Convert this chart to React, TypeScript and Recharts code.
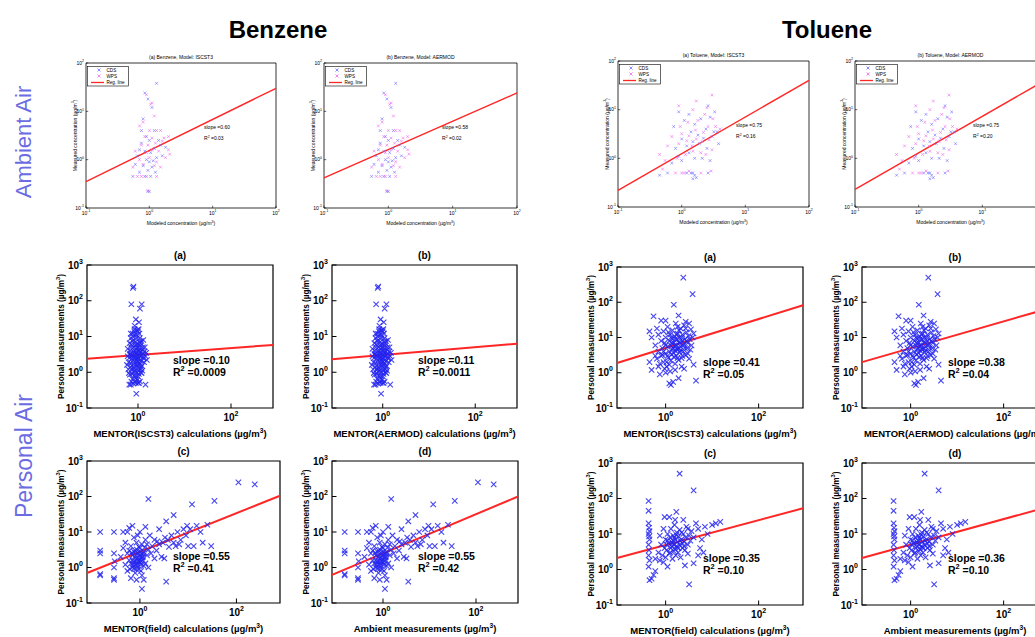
import {
  ReferenceArea,
  ReferenceLine,
  Scatter,
  ScatterChart,
  XAxis,
  YAxis,
} from "recharts";

type Pt = [number, number];

const FONT = '"Liberation Sans", Arial, Helvetica, sans-serif';
const CDS_BLUE = "#6a6aff";
const WPS_PINK = "#ee66ee";
const PERS_BLUE = "#2424ee";
const REG_RED = "#ff2626";
const SIDE_BLUE = "#6b6be2";
const TS = 4; // tick size handed to recharts, removed again in the tick renderers

// ambient air (top row): modeled vs measured, ug/m3
const AMB_BENZ_CDS: Pt[] = [
  [1.3, 38], [0.85, 24], [0.95, 18], [1.1, 12], [0.8, 7], [0.75, 4], [1.2, 4], [0.9, 3],
  [1.0, 2.5], [1.4, 2.5], [0.7, 1.6], [0.85, 1.5], [1.05, 1.4], [1.2, 1.7], [0.65, 1.2],
  [0.9, 1.0], [1.0, 0.9], [1.15, 0.95], [0.6, 0.8], [0.8, 0.75], [1.1, 0.7], [0.95, 0.6],
  [0.7, 0.55], [1.25, 0.55], [0.55, 0.45], [0.85, 0.45], [1.05, 0.45], [0.95, 0.22],
  [1.0, 0.22], [1.6, 1.2], [1.5, 2], [1.8, 1.8], [0.75, 2.2], [1.3, 1.1],
];
const AMB_BENZ_WPS: Pt[] = [
  [1.1, 15], [1.05, 14], [0.9, 22], [1.2, 8], [0.8, 6], [0.7, 5], [1.0, 4], [1.3, 4],
  [1.5, 4], [0.85, 3], [1.1, 2.8], [1.7, 2.8], [2.0, 3], [0.75, 2], [0.95, 2], [1.25, 2.2],
  [1.6, 2.4], [0.6, 1.5], [0.9, 1.4], [1.1, 1.6], [1.4, 1.5], [2.0, 1.6], [0.7, 1.0],
  [1.0, 1.1], [1.3, 0.9], [1.8, 1.1], [0.55, 0.7], [0.8, 0.8], [1.2, 0.75], [0.65, 0.45],
  [0.75, 0.45], [0.9, 0.45], [1.3, 0.45], [0.95, 0.23], [1.5, 0.7], [2.1, 1.3],
];
const AMB_TOLU_CDS: Pt[] = [
  [0.45, 0.45], [0.6, 0.5], [1.2, 0.5], [1.4, 0.5], [1.5, 0.5], [1.6, 0.45], [1.7, 0.4],
  [1.5, 0.38], [2.6, 0.5], [0.7, 0.8], [0.9, 1.1], [1.0, 0.9], [1.3, 1.3], [1.6, 1.0],
  [2.1, 1.0], [2.8, 0.9], [0.8, 1.6], [1.2, 1.8], [1.5, 2.2], [1.9, 2.0], [2.2, 2.6],
  [2.5, 1.6], [3.0, 2.8], [1.0, 2.5], [1.4, 3.5], [1.8, 3.0], [2.4, 4.0], [3.2, 3.5],
  [0.75, 4.5], [1.6, 5], [2.0, 6.5], [2.8, 7], [3.3, 9], [1.1, 6], [0.9, 9], [2.6, 12],
  [1.3, 8], [3.6, 3.5], [3.8, 2],
];
const AMB_TOLU_WPS: Pt[] = [
  [0.5, 0.6], [0.8, 0.5], [1.0, 0.5], [1.1, 0.5], [1.3, 0.55], [2.0, 0.5], [2.9, 0.55],
  [0.55, 0.9], [0.85, 1.0], [1.15, 1.2], [1.5, 1.4], [2.0, 1.3], [2.4, 1.2], [3.0, 1.5],
  [0.6, 1.8], [0.9, 2.0], [1.2, 2.3], [1.45, 1.8], [1.7, 2.5], [2.1, 2.2], [2.7, 2.4],
  [0.7, 2.8], [1.0, 3.2], [1.3, 2.9], [1.65, 3.8], [2.2, 3.4], [2.6, 4.5], [3.4, 4.5],
  [0.95, 4.5], [1.25, 5.5], [1.8, 6], [2.3, 8], [3.1, 6.5], [1.5, 10], [0.9, 12],
  [1.7, 15], [3.0, 20], [2.5, 11], [4.0, 4], [0.45, 1.2],
];

// personal air: (a) ISCST3 and (b) AERMOD clouds look the same, likewise (c)/(d)
const BENZ_MODEL: Pt[] = [
  [0.78, 230], [0.8, 250], [0.72, 80], [1.1, 60], [1.2, 80], [0.9, 30], [0.85, 20],
  [1.05, 25], [0.95, 15], [0.7, 12], [1.3, 8], [0.65, 0.45], [0.7, 0.45], [1.45, 0.45],
  [0.92, 0.25], [1.0, 0.5], [1.05, 0.5], [0.85, 0.55],
  [0.62, 1.2], [0.65, 2.5], [0.68, 4], [0.7, 1.8], [0.72, 6], [0.74, 0.9], [0.75, 3],
  [0.77, 10], [0.78, 1.4], [0.8, 5], [0.8, 2.2], [0.82, 0.8], [0.83, 14], [0.85, 3.5],
  [0.86, 1.1], [0.88, 7], [0.9, 2.7], [0.9, 0.7], [0.92, 4.5], [0.93, 1.6], [0.95, 9],
  [0.96, 2], [0.98, 3.2], [1.0, 1.3], [1.0, 6], [1.02, 2.4], [1.04, 0.9], [1.05, 4],
  [1.07, 12], [1.08, 1.8], [1.1, 2.9], [1.12, 5.5], [1.14, 1.2], [1.16, 3.6], [1.18, 7.5],
  [1.2, 2.1], [1.22, 1.5], [1.25, 4.2], [1.28, 2.6], [1.3, 3.3], [1.35, 1.9], [1.4, 5],
  [1.45, 2.8], [0.66, 6.5], [0.7, 9], [0.76, 0.65], [0.84, 16], [0.94, 11], [1.03, 16],
  [1.06, 7], [0.79, 3.8], [0.87, 2.6], [0.97, 5], [1.09, 3.7], [0.73, 2.4], [0.81, 1.7],
  [0.91, 1.0], [1.01, 2.0], [1.13, 1.0], [0.69, 3.3], [0.96, 0.6], [1.19, 0.95], [1.5, 3.5],
  [1.55, 2.2], [0.6, 2.8], [0.63, 1.9], [0.67, 0.85], [0.71, 5], [0.74, 1.2], [0.78, 2.7],
  [0.81, 8], [0.83, 1.3], [0.86, 4], [0.89, 0.8], [0.91, 6], [0.94, 2.3], [0.97, 1.5],
  [0.99, 4], [1.02, 0.75], [1.04, 3], [1.06, 1.6], [1.09, 9], [1.11, 2.2], [1.15, 6.5],
  [1.17, 1.4], [1.21, 3], [1.24, 1.1], [1.27, 5], [1.32, 2.4], [1.38, 3.8], [0.76, 12],
  [0.88, 11], [1.0, 14], [0.72, 0.55], [1.1, 0.55], [0.9, 0.5], [0.8, 0.48],
  [0.58, 1.6], [0.6, 4.5], [0.64, 0.95], [0.66, 3.2], [0.69, 1.4], [0.71, 2.9], [0.75, 7.5],
  [0.79, 1.05], [0.84, 2.0], [0.87, 5.5], [0.93, 3.4], [0.98, 2.6], [1.03, 1.1], [1.08, 4.6],
];
const BENZ_FIELD: Pt[] = [
  [0.15, 10], [0.15, 3], [0.15, 2.5], [0.15, 0.6], [0.15, 0.65], [0.29, 10], [0.29, 2.5],
  [0.29, 1.0], [0.29, 0.5], [0.29, 0.45], [0.3, 1.5],
  [0.4, 2], [0.45, 3.5], [0.5, 1.2], [0.5, 5], [0.55, 0.8], [0.55, 2.5], [0.6, 13],
  [0.6, 1.6], [0.65, 4], [0.65, 0.5], [0.7, 1.0], [0.7, 2.2], [0.75, 7], [0.75, 1.4],
  [0.8, 3], [0.8, 0.7], [0.85, 1.8], [0.85, 5], [0.9, 1.1], [0.9, 2.6], [0.95, 0.9],
  [0.95, 1.5], [1.0, 3.5], [1.0, 10], [1.05, 1.2], [1.05, 2], [1.1, 0.6], [1.1, 4.5],
  [1.15, 1.6], [1.2, 2.8], [1.2, 0.45], [1.3, 1.3], [1.3, 6], [1.4, 2.2], [1.5, 3.2],
  [1.5, 1.0], [1.6, 8], [1.7, 2.5], [1.8, 4], [2.0, 1.8], [2.0, 6], [2.2, 3], [2.5, 4.5],
  [2.5, 12], [2.8, 2], [3.0, 5], [3.3, 7], [3.5, 20], [4.0, 3.8], [4.5, 8], [5.0, 30],
  [5.0, 5], [5.5, 4], [6.0, 10], [7.0, 6], [8.0, 12], [9.0, 8], [10, 4], [11, 12], [12, 60],
  [13, 4], [15, 15], [18, 10], [20, 5], [25, 16], [30, 4], [35, 75], [110, 250], [240, 220],
  [1.5, 85], [1.1, 0.25], [0.45, 10], [0.55, 10], [3.5, 0.4], [0.7, 15], [0.9, 8], [1.3, 14],
  [3.2, 1.8], [0.85, 0.45], [0.6, 3], [0.7, 1.6], [0.8, 1.2], [0.9, 1.9], [1.0, 1.4],
  [1.1, 2.4], [1.2, 1.1], [0.75, 2.8], [0.95, 3.8], [1.05, 0.8], [1.25, 3.6], [0.65, 1.3],
  [0.85, 0.9], [1.15, 2.0], [1.4, 4.5], [2.3, 5.5], [3.8, 6], [6.5, 4.5], [9.5, 15],
  [0.62, 0.9], [0.72, 1.2], [0.78, 2.0], [0.82, 1.5], [0.88, 1.3], [0.92, 2.2], [0.98, 1.7],
  [1.02, 2.8], [1.08, 1.5], [1.12, 1.9], [1.18, 2.5], [0.68, 2.6], [0.76, 0.95], [0.86, 3.2],
];
const TOLU_MODEL: Pt[] = [
  [2.4, 500], [3.8, 170], [1.5, 85], [0.55, 40], [1.9, 42], [0.8, 30], [2.7, 28],
  [0.45, 15], [0.5, 10], [0.45, 2.0], [0.5, 1.2], [0.6, 3], [1.2, 0.5], [1.3, 0.45],
  [1.45, 0.55], [1.9, 0.7], [4.5, 0.6], [1.0, 1.0], [1.6, 1.2], [2.5, 1.3], [4.0, 1.7],
  [0.6, 6], [0.65, 2.5], [0.7, 4], [0.7, 12], [0.75, 1.8], [0.8, 8], [0.8, 3], [0.85, 5],
  [0.9, 2], [0.9, 15], [0.95, 7], [1.0, 3.5], [1.0, 10], [1.05, 1.5], [1.1, 5.5], [1.1, 20],
  [1.15, 2.7], [1.2, 8], [1.2, 4], [1.25, 12], [1.3, 6], [1.3, 2.2], [1.35, 3.3], [1.4, 9],
  [1.4, 16], [1.45, 5], [1.5, 2.8], [1.5, 7], [1.55, 11], [1.6, 4.2], [1.6, 1.8],
  [1.65, 25], [1.7, 6], [1.7, 3], [1.75, 9], [1.8, 13], [1.85, 4.5], [1.9, 2.3],
  [1.95, 7.5], [2.0, 10], [2.0, 3.8], [2.1, 5.5], [2.1, 18], [2.2, 2.6], [2.3, 8],
  [2.3, 12], [2.4, 4], [2.5, 6.5], [2.6, 9], [2.7, 3.2], [2.8, 14], [2.9, 5], [3.0, 7],
  [3.1, 11], [3.2, 2.5], [3.3, 9], [3.5, 17], [3.6, 6], [3.8, 10], [4.0, 13], [0.95, 1.3],
  [1.25, 1.1], [2.2, 1.5], [0.75, 0.9], [1.8, 20], [1.0, 30], [2.5, 22], [0.65, 18],
  [0.9, 4], [1.0, 6], [1.1, 3], [1.2, 1.7], [1.3, 10], [1.4, 4.5], [1.5, 3.6], [1.6, 9],
  [1.7, 4.8], [1.8, 2.6], [1.9, 5], [2.0, 7], [2.1, 4.3], [2.2, 10], [2.3, 3], [2.4, 6],
  [2.6, 5], [2.8, 8], [3.0, 3.5], [3.4, 4.5], [1.35, 7], [1.55, 6], [1.75, 12], [1.95, 16],
  [1.15, 14], [0.85, 3.2], [2.7, 18], [3.2, 25], [0.7, 1.5], [1.05, 2.0],
];
const TOLU_FIELD: Pt[] = [
  [2.0, 500], [4.0, 170], [0.43, 85], [0.43, 45], [1.7, 42], [0.95, 30], [2.4, 25],
  [3.0, 14], [3.2, 0.38], [0.45, 0.5], [0.5, 0.55], [0.55, 0.7], [0.6, 0.9],
  [0.43, 20], [0.44, 15], [0.43, 10], [0.45, 7], [0.43, 5], [0.44, 3.5], [0.43, 2.5],
  [0.45, 1.8], [0.43, 1.2], [0.44, 8.5], [0.45, 12],
  [0.6, 2], [0.7, 3], [0.75, 1.8], [0.8, 5], [0.85, 2.5], [0.9, 1.6], [0.95, 4], [1.0, 7],
  [1.0, 2.2], [1.05, 3.5], [1.1, 10], [1.1, 1.2], [1.15, 5.5], [1.2, 2.8], [1.25, 8],
  [1.3, 4], [1.3, 14], [1.35, 6], [1.4, 2], [1.45, 9], [1.5, 3.3], [1.5, 5], [1.55, 18],
  [1.6, 7], [1.65, 2.5], [1.7, 4.5], [1.75, 11], [1.8, 6], [1.85, 3], [1.9, 8.5], [2.0, 5],
  [2.0, 13], [2.1, 2.2], [2.2, 7], [2.3, 4], [2.4, 10], [2.5, 6], [2.6, 3.5], [2.7, 8],
  [2.8, 16], [3.0, 5], [3.2, 9], [3.4, 6.5], [3.6, 12], [4.0, 8], [4.5, 20], [5.0, 14],
  [5.5, 4], [6.0, 7], [7.0, 16], [8.0, 10], [10, 18], [12, 20], [15, 22], [6.5, 3],
  [4.0, 1.5], [2.6, 1.3], [1.2, 30], [0.75, 9], [0.9, 14], [1.6, 25], [5.0, 2.5], [3.0, 2.8],
  [1.1, 6.5], [1.4, 5.5], [1.7, 9.5], [1.9, 4], [2.2, 11], [2.5, 4.5], [1.25, 3], [1.55, 8],
  [1.05, 5], [1.35, 4.5], [1.6, 3.8], [1.8, 4.2], [2.05, 6.5], [2.3, 5.5], [1.45, 6.5],
];

// regression line end points (left edge, right edge)
const REG_AMB_BENZ_ISC: Pt[] = [[0.1, 0.35], [100, 30]];
const REG_AMB_BENZ_AER: Pt[] = [[0.1, 0.42], [100, 24]];
const REG_AMB_TOLU_ISC: Pt[] = [[0.1, 0.22], [100, 40]];
const REG_AMB_TOLU_AER: Pt[] = [[0.1, 0.23], [100, 41]];
const REG_BENZ_A: Pt[] = [[0.08, 2.4], [800, 5.8]];
const REG_BENZ_B: Pt[] = [[0.08, 2.3], [800, 6.3]];
const REG_BENZ_C: Pt[] = [[0.08, 0.7], [800, 105]];
const REG_BENZ_D: Pt[] = [[0.08, 0.62], [800, 100]];
const REG_TOLU_A: Pt[] = [[0.09, 1.9], [900, 82]];
const REG_TOLU_B: Pt[] = [[0.09, 2.0], [900, 66]];
const REG_TOLU_C: Pt[] = [[0.09, 2.1], [900, 53]];
const REG_TOLU_D: Pt[] = [[0.09, 2.1], [900, 58]];

const AMB_DOMAIN: [number, number] = [0.1, 100];
const BENZ_X_DOMAIN: [number, number] = [0.08, 800];
const TOLU_X_DOMAIN: [number, number] = [0.09, 900];
const PERS_Y_DOMAIN: [number, number] = [0.1, 1000];
const AMB_TICKS = [0.1, 1, 10, 100];
const PERS_X_TICKS = [1, 100];
const PERS_Y_TICKS = [0.1, 1, 10, 100, 1000];

const AMB_X_LABEL = "Modeled concentration (µg/m^3)";
const AMB_Y_LABEL = "Measured concentration (µg/m^3)";
const PERS_Y_LABEL = "Personal measurements (µg/m^3)";

interface PanelSpec {
  box: [number, number, number, number];
  amb: boolean;
  title: string;
  xLabel: string;
  yLabel: string;
  xDomain: [number, number];
  sets: { pts: Pt[]; color: string }[];
  reg: Pt[];
  slope: string;
  r2: string;
}

const ambSets = (cds: Pt[], wps: Pt[]) => [
  { pts: cds, color: CDS_BLUE },
  { pts: wps, color: WPS_PINK },
];

const PANELS: PanelSpec[] = [
  { box: [86, 63, 190, 145], amb: true, title: "(a) Benzene, Model: ISCST3", xLabel: AMB_X_LABEL, yLabel: AMB_Y_LABEL, xDomain: AMB_DOMAIN, sets: ambSets(AMB_BENZ_CDS, AMB_BENZ_WPS), reg: REG_AMB_BENZ_ISC, slope: "slope =0.60", r2: "R^2 =0.03" },
  { box: [324, 63, 193, 145], amb: true, title: "(b) Benzene, Model: AERMOD", xLabel: AMB_X_LABEL, yLabel: AMB_Y_LABEL, xDomain: AMB_DOMAIN, sets: ambSets(AMB_BENZ_CDS, AMB_BENZ_WPS), reg: REG_AMB_BENZ_AER, slope: "slope =0.58", r2: "R^2 =0.02" },
  { box: [618, 61, 191, 146], amb: true, title: "(a) Toluene, Model: ISCST3", xLabel: AMB_X_LABEL, yLabel: AMB_Y_LABEL, xDomain: AMB_DOMAIN, sets: ambSets(AMB_TOLU_CDS, AMB_TOLU_WPS), reg: REG_AMB_TOLU_ISC, slope: "slope =0.75", r2: "R^2 =0.16" },
  { box: [855, 61, 191, 146], amb: true, title: "(b) Toluene, Model: AERMOD", xLabel: AMB_X_LABEL, yLabel: AMB_Y_LABEL, xDomain: AMB_DOMAIN, sets: ambSets(AMB_TOLU_CDS, AMB_TOLU_WPS), reg: REG_AMB_TOLU_AER, slope: "slope =0.75", r2: "R^2 =0.20" },

  { box: [87, 265, 186, 143], amb: false, title: "(a)", xLabel: "MENTOR(ISCST3) calculations (µg/m^3)", yLabel: PERS_Y_LABEL, xDomain: BENZ_X_DOMAIN, sets: [{ pts: BENZ_MODEL, color: PERS_BLUE }], reg: REG_BENZ_A, slope: "slope =0.10", r2: "R^2 =0.0009" },
  { box: [332, 265, 185, 143], amb: false, title: "(b)", xLabel: "MENTOR(AERMOD) calculations (µg/m^3)", yLabel: PERS_Y_LABEL, xDomain: BENZ_X_DOMAIN, sets: [{ pts: BENZ_MODEL, color: PERS_BLUE }], reg: REG_BENZ_B, slope: "slope =0.11", r2: "R^2 =0.0011" },
  { box: [617, 267, 186, 141], amb: false, title: "(a)", xLabel: "MENTOR(ISCST3) calculations (µg/m^3)", yLabel: PERS_Y_LABEL, xDomain: TOLU_X_DOMAIN, sets: [{ pts: TOLU_MODEL, color: PERS_BLUE }], reg: REG_TOLU_A, slope: "slope =0.41", r2: "R^2 =0.05" },
  { box: [862, 267, 186, 141], amb: false, title: "(b)", xLabel: "MENTOR(AERMOD) calculations (µg/m^3)", yLabel: PERS_Y_LABEL, xDomain: TOLU_X_DOMAIN, sets: [{ pts: TOLU_MODEL, color: PERS_BLUE }], reg: REG_TOLU_B, slope: "slope =0.38", r2: "R^2 =0.04" },

  { box: [87, 461, 193, 142], amb: false, title: "(c)", xLabel: "MENTOR(field) calculations (µg/m^3)", yLabel: PERS_Y_LABEL, xDomain: BENZ_X_DOMAIN, sets: [{ pts: BENZ_FIELD, color: PERS_BLUE }], reg: REG_BENZ_C, slope: "slope =0.55", r2: "R^2 =0.41" },
  { box: [332, 461, 186, 142], amb: false, title: "(d)", xLabel: "Ambient measurements (µg/m^3)", yLabel: PERS_Y_LABEL, xDomain: BENZ_X_DOMAIN, sets: [{ pts: BENZ_FIELD, color: PERS_BLUE }], reg: REG_BENZ_D, slope: "slope =0.55", r2: "R^2 =0.42" },
  { box: [617, 463, 186, 142], amb: false, title: "(c)", xLabel: "MENTOR(field) calculations (µg/m^3)", yLabel: PERS_Y_LABEL, xDomain: TOLU_X_DOMAIN, sets: [{ pts: TOLU_FIELD, color: PERS_BLUE }], reg: REG_TOLU_C, slope: "slope =0.35", r2: "R^2 =0.10" },
  { box: [862, 463, 186, 142], amb: false, title: "(d)", xLabel: "Ambient measurements (µg/m^3)", yLabel: PERS_Y_LABEL, xDomain: TOLU_X_DOMAIN, sets: [{ pts: TOLU_FIELD, color: PERS_BLUE }], reg: REG_TOLU_D, slope: "slope =0.36", r2: "R^2 =0.10" },
];

// "abc^3def" -> abc, raised 3, def
function supText(s: string, fs: number) {
  const i = s.indexOf("^");
  if (i < 0) return s;
  return [
    <tspan key="a">{s.slice(0, i)}</tspan>,
    <tspan key="b" dy={-fs * 0.45} fontSize={fs * 0.7}>{s[i + 1]}</tspan>,
    <tspan key="c" dy={fs * 0.45}>{s.slice(i + 2)}</tspan>,
  ];
}

function xTick(fs: number, bold: boolean) {
  return (props: any) => {
    const { x, payload } = props;
    const y = props.y - TS; // back to the box bottom
    const e = Math.round(Math.log10(payload.value));
    return (
      <g>
        <line x1={x} x2={x} y1={y} y2={y - fs * 0.45} stroke="#000" strokeWidth={bold ? 1 : 0.6} />
        <text x={x} y={y + fs * 1.3} textAnchor="middle" fontSize={fs} fontWeight={bold ? 700 : 400} fontFamily={FONT} fill="#000">
          10<tspan dy={-fs * 0.5} fontSize={fs * 0.7}>{e}</tspan>
        </text>
      </g>
    );
  };
}

function yTick(fs: number, bold: boolean) {
  return (props: any) => {
    const { y, payload } = props;
    const x = props.x + TS; // back to the box left edge
    const e = Math.round(Math.log10(payload.value));
    return (
      <g>
        <line x1={x} x2={x + fs * 0.45} y1={y} y2={y} stroke="#000" strokeWidth={bold ? 1 : 0.6} />
        <text x={x - fs * 0.4} y={y + fs * 0.35} textAnchor="end" fontSize={fs} fontWeight={bold ? 700 : 400} fontFamily={FONT} fill="#000">
          10<tspan dy={-fs * 0.5} fontSize={fs * 0.7}>{e}</tspan>
        </text>
      </g>
    );
  };
}

function cross(size: number, color: string, width: number, opacity: number) {
  return (props: any) => {
    const { cx, cy } = props;
    if (cx == null || cy == null) return <g />;
    return (
      <path
        d={`M${cx - size},${cy - size}L${cx + size},${cy + size}M${cx + size},${cy - size}L${cx - size},${cy + size}`}
        stroke={color}
        strokeWidth={width}
        strokeOpacity={opacity}
        fill="none"
      />
    );
  };
}

function Panel({ spec }: { spec: PanelSpec }) {
  const [bl, bt, bw, bh] = spec.box;
  const amb = spec.amb;
  const m = amb ? { l: 40, t: 14, r: 8, b: 24 } : { l: 75, t: 22, r: 10, b: 40 };
  const yw = amb ? 20 : 30; // y axis band inside the left margin
  const xh = amb ? 10 : 20; // x axis band inside the bottom margin
  const W = m.l + bw + m.r;
  const H = m.t + bh + m.b;
  const fs = amb ? 5 : 10;
  const yDomain = amb ? AMB_DOMAIN : PERS_Y_DOMAIN;
  const xTicks = amb ? AMB_TICKS : PERS_X_TICKS;
  const yTicks = amb ? AMB_TICKS : PERS_Y_TICKS;
  const cx = m.l + bw / 2;

  return (
    <div style={{ position: "absolute", left: bl - m.l, top: bt - m.t, width: W, height: H }}>
      <ScatterChart
        width={W}
        height={H}
        margin={{ top: m.t, right: m.r, bottom: m.b - xh, left: m.l - yw }}
      >
        <XAxis
          type="number"
          dataKey="x"
          scale="log"
          domain={spec.xDomain}
          allowDataOverflow
          ticks={xTicks}
          interval={0}
          height={xh}
          tickSize={TS}
          tickMargin={0}
          tickLine={false}
          axisLine={false}
          tick={xTick(fs, !amb)}
        />
        <YAxis
          type="number"
          dataKey="y"
          scale="log"
          domain={yDomain}
          allowDataOverflow
          ticks={yTicks}
          interval={0}
          width={yw}
          tickSize={TS}
          tickMargin={0}
          tickLine={false}
          axisLine={false}
          tick={yTick(fs, !amb)}
        />
        <ReferenceArea
          x1={spec.xDomain[0]}
          x2={spec.xDomain[1]}
          y1={yDomain[0]}
          y2={yDomain[1]}
          fill="none"
          stroke="#000"
          strokeWidth={amb ? 0.8 : 1.2}
          ifOverflow="visible"
        />
        {spec.sets.map((s, i) => (
          <Scatter
            key={i}
            data={s.pts.map(([x, y]) => ({ x, y }))}
            shape={amb ? cross(1.4, s.color, 0.8, 0.75) : cross(2.7, s.color, 1.1, 0.85)}
            isAnimationActive={false}
          />
        ))}
        <ReferenceLine
          segment={spec.reg.map(([x, y]) => ({ x, y }))}
          stroke={REG_RED}
          strokeWidth={amb ? 1.4 : 2}
          ifOverflow="visible"
        />
      </ScatterChart>
      <svg
        width={W}
        height={H}
        style={{ position: "absolute", left: 0, top: 0, pointerEvents: "none", overflow: "visible" }}
        fontFamily={FONT}
        fill="#000"
      >
        {amb ? (
          <g fontSize={5}>
            <text x={cx} y={m.t - 4.5} textAnchor="middle">{spec.title}</text>
            <text x={cx} y={m.t + bh + 17} textAnchor="middle">{supText(spec.xLabel, 5)}</text>
            <text transform={`translate(${m.l - 9.5},${m.t + bh / 2}) rotate(-90)`} textAnchor="middle">
              {supText(spec.yLabel, 5)}
            </text>
            <text x={m.l + 118} y={m.t + 66}>{spec.slope}</text>
            <text x={m.l + 118} y={m.t + 77}>{supText(spec.r2, 5)}</text>
            <rect x={m.l + 1.5} y={m.t + 3.5} width={41} height={19.5} fill="#fff" stroke="#000" strokeWidth={0.6} />
            <path d={`M${m.l + 11.5},${m.t + 5.5}l3,3m0,-3l-3,3`} stroke={CDS_BLUE} strokeWidth={0.8} />
            <path d={`M${m.l + 11.5},${m.t + 11.5}l3,3m0,-3l-3,3`} stroke={WPS_PINK} strokeWidth={0.8} />
            <line x1={m.l + 5} x2={m.l + 18} y1={m.t + 19.5} y2={m.t + 19.5} stroke={REG_RED} strokeWidth={1.3} />
            <text x={m.l + 20.5} y={m.t + 8.8} fontSize={4.6}>CDS</text>
            <text x={m.l + 20.5} y={m.t + 14.8} fontSize={4.6}>WPS</text>
            <text x={m.l + 20.5} y={m.t + 21.2} fontSize={4.6}>Reg. line</text>
          </g>
        ) : (
          <g fontWeight={700}>
            <text x={cx} y={m.t - 6.5} textAnchor="middle" fontSize={10}>{spec.title}</text>
            <text x={cx} y={m.t + bh + 29} textAnchor="middle" fontSize={9.5}>{supText(spec.xLabel, 9.5)}</text>
            <text transform={`translate(${m.l - 23},${m.t + bh / 2}) rotate(-90)`} textAnchor="middle" fontSize={8.2}>
              {supText(spec.yLabel, 8.2)}
            </text>
            <text x={m.l + 86} y={m.t + 99} fontSize={10.5}>{spec.slope}</text>
            <text x={m.l + 86} y={m.t + 111} fontSize={10.5}>{supText(spec.r2, 10.5)}</text>
          </g>
        )}
      </svg>
    </div>
  );
}

export default function App() {
  return (
    <div
      style={{
        position: "absolute",
        left: 0,
        top: 0,
        width: 1035,
        height: 637,
        overflow: "hidden",
        background: "#fff",
        fontFamily: FONT,
      }}
    >
      <div style={{ position: "absolute", left: 278, top: 30, transform: "translate(-50%,-50%)", fontSize: 24, fontWeight: 700, whiteSpace: "nowrap" }}>
        Benzene
      </div>
      <div style={{ position: "absolute", left: 827, top: 30, transform: "translate(-50%,-50%)", fontSize: 24, fontWeight: 700, whiteSpace: "nowrap" }}>
        Toluene
      </div>
      <div style={{ position: "absolute", left: 24, top: 142, transform: "translate(-50%,-50%) rotate(-90deg)", fontSize: 22, color: SIDE_BLUE, whiteSpace: "nowrap" }}>
        Ambient Air
      </div>
      <div style={{ position: "absolute", left: 24, top: 456, transform: "translate(-50%,-50%) rotate(-90deg)", fontSize: 23, color: SIDE_BLUE, whiteSpace: "nowrap" }}>
        Personal Air
      </div>
      {PANELS.map((p, i) => (
        <Panel key={i} spec={p} />
      ))}
    </div>
  );
}
